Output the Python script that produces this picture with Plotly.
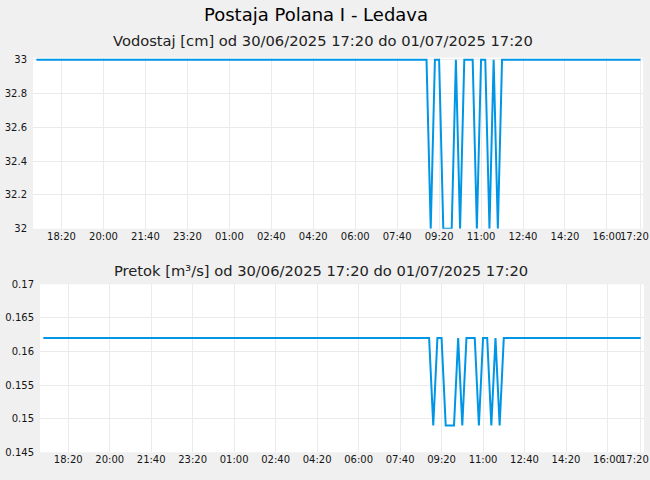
import pandas as pd
import plotly.graph_objects as go

# ---- data (10-minute samples, 30/06/2025 17:20 -> 01/07/2025 17:20) ----
start_time = "2025-06-30 17:20"
sample_count = 145

# water level [cm], one row = one hour (6 samples)
vodostaj = [
    33, 33, 33, 33, 33, 33,   # 17:20
    33, 33, 33, 33, 33, 33,   # 18:20
    33, 33, 33, 33, 33, 33,   # 19:20
    33, 33, 33, 33, 33, 33,   # 20:20
    33, 33, 33, 33, 33, 33,   # 21:20
    33, 33, 33, 33, 33, 33,   # 22:20
    33, 33, 33, 33, 33, 33,   # 23:20
    33, 33, 33, 33, 33, 33,   # 00:20
    33, 33, 33, 33, 33, 33,   # 01:20
    33, 33, 33, 33, 33, 33,   # 02:20
    33, 33, 33, 33, 33, 33,   # 03:20
    33, 33, 33, 33, 33, 33,   # 04:20
    33, 33, 33, 33, 33, 33,   # 05:20
    33, 33, 33, 33, 33, 33,   # 06:20
    33, 33, 33, 33, 33, 33,   # 07:20
    33, 33, 33, 33, 32, 33,   # 08:20
    33, 32, 32, 32, 33, 32,   # 09:20
    33, 33, 33, 32, 33, 33,   # 10:20
    32, 33, 32, 33, 33, 33,   # 11:20
    33, 33, 33, 33, 33, 33,   # 12:20
    33, 33, 33, 33, 33, 33,   # 13:20
    33, 33, 33, 33, 33, 33,   # 14:20
    33, 33, 33, 33, 33, 33,   # 15:20
    33, 33, 33, 33, 33, 33,   # 16:20
    33,                       # 17:20
]

# discharge [m3/s]
pretok = [
    0.162, 0.162, 0.162, 0.162, 0.162, 0.162,
    0.162, 0.162, 0.162, 0.162, 0.162, 0.162,
    0.162, 0.162, 0.162, 0.162, 0.162, 0.162,
    0.162, 0.162, 0.162, 0.162, 0.162, 0.162,
    0.162, 0.162, 0.162, 0.162, 0.162, 0.162,
    0.162, 0.162, 0.162, 0.162, 0.162, 0.162,
    0.162, 0.162, 0.162, 0.162, 0.162, 0.162,
    0.162, 0.162, 0.162, 0.162, 0.162, 0.162,
    0.162, 0.162, 0.162, 0.162, 0.162, 0.162,
    0.162, 0.162, 0.162, 0.162, 0.162, 0.162,
    0.162, 0.162, 0.162, 0.162, 0.162, 0.162,
    0.162, 0.162, 0.162, 0.162, 0.162, 0.162,
    0.162, 0.162, 0.162, 0.162, 0.162, 0.162,
    0.162, 0.162, 0.162, 0.162, 0.162, 0.162,
    0.162, 0.162, 0.162, 0.162, 0.162, 0.162,
    0.162, 0.162, 0.162, 0.162, 0.149, 0.162,
    0.162, 0.149, 0.149, 0.149, 0.162, 0.149,
    0.162, 0.162, 0.162, 0.149, 0.162, 0.162,
    0.149, 0.162, 0.149, 0.162, 0.162, 0.162,
    0.162, 0.162, 0.162, 0.162, 0.162, 0.162,
    0.162, 0.162, 0.162, 0.162, 0.162, 0.162,
    0.162, 0.162, 0.162, 0.162, 0.162, 0.162,
    0.162, 0.162, 0.162, 0.162, 0.162, 0.162,
    0.162, 0.162, 0.162, 0.162, 0.162, 0.162,
    0.162,
]

tick_times = [
    "2025-06-30 18:20", "2025-06-30 20:00", "2025-06-30 21:40", "2025-06-30 23:20",
    "2025-07-01 01:00", "2025-07-01 02:40", "2025-07-01 04:20", "2025-07-01 06:00",
    "2025-07-01 07:40", "2025-07-01 09:20", "2025-07-01 11:00", "2025-07-01 12:40",
    "2025-07-01 14:20", "2025-07-01 16:00", "2025-07-01 17:20",
]
tick_labels = ["18:20", "20:00", "21:40", "23:20", "01:00", "02:40", "04:20", "06:00",
               "07:40", "09:20", "11:00", "12:40", "14:20", "16:00", "17:20"]

y1_ticks = [32, 32.2, 32.4, 32.6, 32.8, 33]
y1_labels = ["32", "32.2", "32.4", "32.6", "32.8", "33"]
y2_ticks = [0.145, 0.15, 0.155, 0.16, 0.165, 0.17]
y2_labels = ["0.145", "0.15", "0.155", "0.16", "0.165", "0.17"]

main_title = "Postaja Polana I - Ledava"
title1 = "Vodostaj [cm] od 30/06/2025 17:20 do 01/07/2025 17:20"
title2 = "Pretok [m³/s] od 30/06/2025 17:20 do 01/07/2025 17:20"

# ---- figure ----
times = pd.date_range(start_time, periods=sample_count, freq="10min")
t0 = times[0]
t1 = times[-1]

W, H = 650, 480
LINE = "#0096e6"
GRID = "#ebebeb"
FONT = "DejaVu Sans"
TICKFONT = dict(family=FONT, size=10, color="#151515")

def px_x(a, b):
    return [a / W, b / W]

def px_y(top, bottom):
    return [1 - bottom / H, 1 - top / H]

fig = go.Figure()
fig.add_trace(go.Scatter(x=times, y=vodostaj, mode="lines",
                         line=dict(color=LINE, width=2), xaxis="x", yaxis="y",
                         hoverinfo="skip", showlegend=False))
fig.add_trace(go.Scatter(x=times, y=pretok, mode="lines",
                         line=dict(color=LINE, width=2), xaxis="x2", yaxis="y2",
                         hoverinfo="skip", showlegend=False))

xcommon = dict(type="date", tickmode="array", tickvals=tick_times, ticktext=tick_labels,
               showgrid=True, gridcolor=GRID, gridwidth=1, zeroline=False,
               showline=False, ticks="", tickfont=TICKFONT, fixedrange=True)
ycommon = dict(showgrid=True, gridcolor=GRID, gridwidth=1, zeroline=False,
               showline=False, ticks="", ticklabelstandoff=5,
               tickfont=TICKFONT, fixedrange=True)

# the last tick label sits at the right page edge (plotly hides it there):
# draw it as text at that tick, nudged left just enough to stay on the page
edge_labels = []
for xa, ya in (("x", "y"), ("x2", "y2")):
    edge_labels.append(dict(
        text=tick_labels[-1], xref=xa, yref=ya + " domain", x=tick_times[-1], y=0,
        xanchor="center", yanchor="top", xshift=-6, yshift=-1,
        borderpad=0, showarrow=False, font=TICKFONT))

fig.update_layout(
    width=W, height=H,
    margin=dict(l=0, r=0, t=0, b=0),
    paper_bgcolor="#f0f0f0", plot_bgcolor="#ffffff",
    xaxis=dict(**xcommon, domain=px_x(33, 643), anchor="y",
               range=[t0 - pd.Timedelta(minutes=8), t1 + pd.Timedelta(minutes=6)]),
    yaxis=dict(**ycommon, domain=px_y(53, 228.5), anchor="x",
               range=[32, 33.012], tickmode="array", tickvals=y1_ticks, ticktext=y1_labels),
    xaxis2=dict(**xcommon, domain=px_x(40, 644), anchor="y2",
                range=[t0 - pd.Timedelta(minutes=8), t1 + pd.Timedelta(minutes=8)]),
    yaxis2=dict(**ycommon, domain=px_y(285.5, 457.7), anchor="x2",
                range=[0.145, 0.17], tickmode="array", tickvals=y2_ticks, ticktext=y2_labels),
    annotations=[
        dict(text=main_title, xref="paper", yref="paper", x=316 / W, y=1 - 8.5 / H,
             xanchor="center", yanchor="middle", showarrow=False,
             font=dict(family=FONT, size=18, color="#000")),
        dict(text=title1, xref="paper", yref="paper", x=323 / W, y=1 - 35.5 / H,
             xanchor="center", yanchor="middle", showarrow=False,
             font=dict(family=FONT, size=14.7, color="#222")),
        dict(text=title2, xref="paper", yref="paper", x=321 / W, y=1 - 271 / H,
             xanchor="center", yanchor="middle", showarrow=False,
             font=dict(family=FONT, size=14.7, color="#222")),
    ] + edge_labels,
)

fig.write_html(
    "out.html", config={"displayModeBar": False},
    post_script="document.body.style.margin='0';document.body.style.background='#f0f0f0';",
)
